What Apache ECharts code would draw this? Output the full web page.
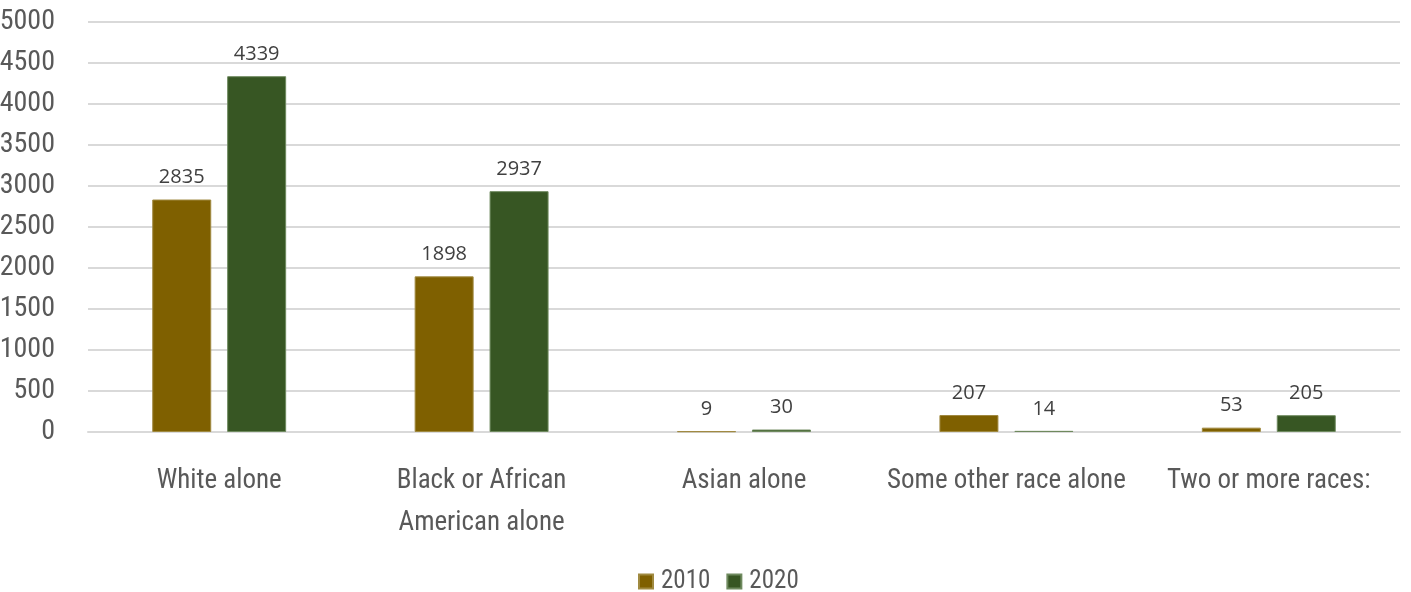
<!DOCTYPE html>
<html>
<head>
<meta charset="utf-8">
<script src="https://cdn.jsdelivr.net/npm/echarts@6/dist/echarts.min.js"></script>
<style>
  html, body { margin: 0; padding: 0; background: #fff; }
  #chart { width: 1411px; height: 592px; }
</style>
</head>
<body>
<div id="chart"></div>
<script>
// Population by race, 2010 vs 2020
const categories = ['White alone', 'Black or African\nAmerican alone', 'Asian alone', 'Some other race alone', 'Two or more races:'];
const values2010 = [2835, 1898, 9, 207, 53];
const values2020 = [4339, 2937, 30, 14, 205];
const seriesNames = ['2010', '2020'];

const condensed = '"Roboto Condensed", "Liberation Sans Narrow", sans-serif';
const textColor = '#595959';

const chart = echarts.init(document.getElementById('chart'));
chart.setOption({
  animation: false,
  grid: { left: 88, right: 11, top: 22, bottom: 160, containLabel: false, outerBoundsMode: 'none' },
  legend: {
    top: 564,
    left: 633,
    itemWidth: 14,
    itemHeight: 14,
    itemGap: 16,
    icon: 'rect',
    textStyle: { fontFamily: condensed, fontSize: 25, color: textColor, padding: [0, 0, 0, 3] }
  },
  xAxis: {
    type: 'category',
    data: categories,
    axisLine: { lineStyle: { color: '#d9d9d9', width: 2 } },
    axisTick: { show: false },
    axisLabel: {
      fontFamily: condensed, fontSize: 27, color: textColor,
      lineHeight: 42, margin: 28, interval: 0
    }
  },
  yAxis: {
    type: 'value',
    min: 0, max: 5000, interval: 500,
    axisLine: { show: false },
    axisTick: { show: false },
    splitLine: { lineStyle: { color: '#d9d9d9', width: 2 } },
    axisLabel: {
      fontFamily: condensed, fontSize: 28, color: textColor, margin: 33,
      formatter: v => String(v)
    }
  },
  series: [
    {
      name: seriesNames[0], type: 'bar', data: values2010,
      barWidth: 59, barGap: '27%',
      itemStyle: { color: '#7f6000', borderColor: '#a08a40', borderWidth: 1 },
      label: { show: true, position: 'top', distance: 12, fontFamily: '"Open Sans", sans-serif', fontSize: 20, color: '#404040' }
    },
    {
      name: seriesNames[1], type: 'bar', data: values2020,
      barWidth: 59,
      itemStyle: { color: '#375623', borderColor: '#6f8a5f', borderWidth: 1 },
      label: { show: true, position: 'top', distance: 12, fontFamily: '"Open Sans", sans-serif', fontSize: 20, color: '#404040' }
    }
  ]
});
</script>
</body>
</html>
